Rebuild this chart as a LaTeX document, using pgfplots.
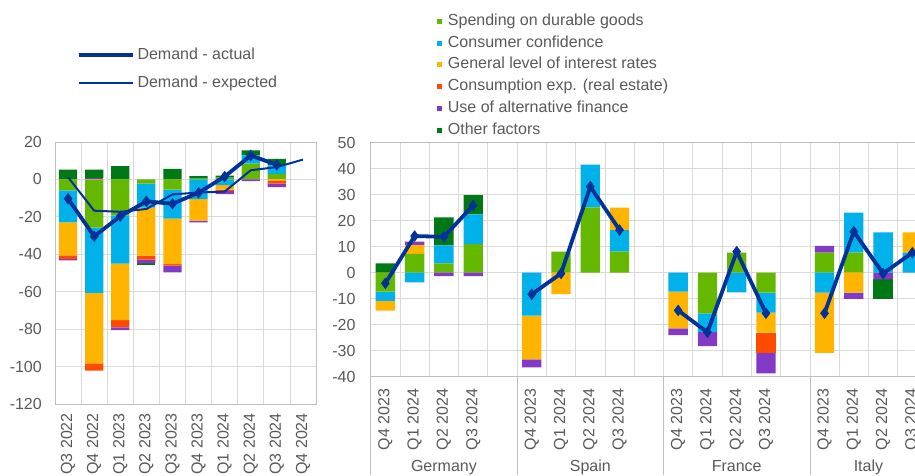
\documentclass[border=0pt]{standalone}
\usepackage{fontspec}
\setmainfont{Liberation Sans}
\usepackage{pgfplots}
\usepackage{pgfplotstable}
\pgfplotsset{compat=1.18}

\definecolor{ecbblue}{HTML}{003299}
\definecolor{cdur}{HTML}{65B800}
\definecolor{cconf}{HTML}{00B1EA}
\definecolor{cint}{HTML}{FFB400}
\definecolor{cre}{HTML}{FF4B00}
\definecolor{calt}{HTML}{8139C6}
\definecolor{coth}{HTML}{007816}
\definecolor{txtgray}{HTML}{595959}
\definecolor{gridgray}{HTML}{D9D9D9}
\definecolor{framegray}{HTML}{BFBFBF}

% Left chart: euro area, positive parts of contributions
\pgfplotstableread{
x dur conf int re alt oth
0 0 0 0 0 0 5.2
1 0 0 0 0 0.7 4.5
2 0 0 0 0 0 7.1
3 0 0 0 0 0 0
4 0 0 0 0 0 5.7
5 0.7 0 0 0 0 1.1
6 0.9 0 0 0 0 1.2
7 8.5 4.3 0 0 0 2.7
8 3 4.5 0 0 0 3.5
9 0 0 0 0 0 0
}\leftpos
% negative parts
\pgfplotstableread{
x dur conf int re alt oth
0 -5.9 -17 -17.7 -2 -0.7 0
1 -25.8 -34.8 -37.7 -3.9 0 0
2 -19.2 -25.8 -30.2 -3.9 -1.4 0
3 -2.3 -12.7 -25.7 -2.2 -2 -0.7
4 -5.5 -15.5 -24.3 -0.7 -3.6 0
5 0 -10.5 -11.5 0 -1 0
6 0 -3 -2.5 -0.8 -1.6 0
7 0 0 0 0 -0.9 0
8 0 0 -0.5 -1.8 -1.8 0
9 0 0 0 0 0 0
}\leftneg
\pgfplotstableread{
x act exp
0 -10.3 1.2
1 -30.4 -16.7
2 -19.7 -17.3
3 -11.7 -15.8
4 -13 -8
5 -7.1 -7
6 1.5 -6.5
7 12.8 4.9
8 7.8 6.6
9 nan 10.6
}\leftline

% Right chart: countries
\pgfplotstableread{
x dur conf int re alt oth
0 0 0 0 0 0 3.6
1 7.2 0 3.5 0 1.3 0
2 3.6 6.9 0 0 0 10.8
3 11 11.4 0 0 0 7.4
5 0 0 0 0 0 0
6 8.1 0 0 0 0 0
7 25.1 16.5 0 0 0 0
8 8.1 8.3 8.6 0 0 0
10 0 0 0 0 0 0
11 0 0 0 0 0 0
12 7.7 0 0 0 0 0
13 0 0 0 0 0 0
15 7.7 0 0 0 2.6 0
16 7.7 15.4 0 0 0 0
17 0 15.5 0 0 0 0
18 0 7.7 7.8 0 0 0
}\rightpos
\pgfplotstableread{
x dur conf int re alt oth
0 -7.3 -3.5 -3.8 0 0 0
1 0 -3.7 0 0 0 0
2 0 0 0 0 -1.3 0
3 0 0 0 0 -1.3 0
5 0 -16.5 -16.8 0 -3.1 0
6 0 0 -8.2 0 0 0
7 0 0 0 0 0 0
8 0 0 0 0 0 0
10 0 -7.3 -14.1 0 -2.6 0
11 -15.6 -7.3 0 0 -5.3 0
12 0 -7.6 0 0 0 0
13 -7.7 -7.7 -7.6 -7.8 -7.9 0
15 0 -7.7 -23.1 0 0 0
16 0 0 -7.7 0 -2.4 0
17 0 0 0 0 -2.6 -7.6
18 0 0 0 0 0 0
}\rightneg
\pgfplotstableread{
x act
0 -4.1
1 14.1
2 13.8
3 25.9
4 nan
5 -8.3
6 -0.3
7 33.1
8 16.4
9 nan
10 -14.5
11 -22.9
12 8.1
13 -15.6
14 nan
15 -15.6
16 15.8
17 -0.3
18 7.7
}\rightline

\pgfplotsset{
  basefont/.style={font=\fontsize{16}{16}\selectfont},
  common/.style={
    scale only axis, anchor=south west, basefont,
    /pgf/number format/assume math mode=true,
    tick label style={text=txtgray},
    axis line style={draw=framegray, line width=0.75pt},
    grid style={draw=gridgray, line width=0.75pt},
    major tick length=0pt, minor tick length=0pt,
  },
  leftgeom/.style={common, at={(55pt,71pt)}, width=261pt, height=262pt,
    xmin=-0.5, xmax=9.5, ymin=-120, ymax=20},
  rightgeom/.style={common, at={(370.7pt,98.3pt)}, width=556.3pt, height=234pt,
    xmin=-0.5, xmax=18.5, ymin=-40, ymax=50},
  sq legend/.style={legend image code/.code={\fill[##1] (0pt,-2.5pt) rectangle (5pt,2.5pt);}},
  ln legend/.style={legend image code/.code={\draw[##1] (0pt,0.5pt) -- (54pt,0.5pt);}},
}

\begin{document}
\begin{tikzpicture}
\path[use as bounding box] (0,0) rectangle (915pt,475pt);
\clip (0,0) rectangle (915pt,475pt);

% ---------- LEFT CHART ----------
\begin{axis}[leftgeom,
  ybar stacked, bar width=0.7,
  ytick={-120,-100,...,20}, ymajorgrids,
  xtick={0,...,9},
  xticklabels={Q3 2022,Q4 2022,Q1 2023,Q2 2023,Q3 2023,Q4 2023,Q1 2024,Q2 2024,Q3 2024,Q4 2024},
  minor xtick={-0.5,0.5,...,9.5}, xminorgrids,
  xticklabel style={rotate=90, anchor=east, inner sep=0pt},
  xticklabel shift=9pt,
  yticklabel style={anchor=east, inner sep=0pt},
  yticklabel shift=13pt,
]
\addplot[fill=cdur, draw=none] table[x=x,y=dur]{\leftpos};
\addplot[fill=cconf, draw=none] table[x=x,y=conf]{\leftpos};
\addplot[fill=cint, draw=none] table[x=x,y=int]{\leftpos};
\addplot[fill=cre, draw=none] table[x=x,y=re]{\leftpos};
\addplot[fill=calt, draw=none] table[x=x,y=alt]{\leftpos};
\addplot[fill=coth, draw=none] table[x=x,y=oth]{\leftpos};
\end{axis}
\begin{axis}[leftgeom, hide axis, ybar stacked, bar width=0.7]
\addplot[fill=cdur, draw=none] table[x=x,y=dur]{\leftneg};
\addplot[fill=cconf, draw=none] table[x=x,y=conf]{\leftneg};
\addplot[fill=cint, draw=none] table[x=x,y=int]{\leftneg};
\addplot[fill=cre, draw=none] table[x=x,y=re]{\leftneg};
\addplot[fill=calt, draw=none] table[x=x,y=alt]{\leftneg};
\addplot[fill=coth, draw=none] table[x=x,y=oth]{\leftneg};
\end{axis}
\begin{axis}[leftgeom, hide axis, clip=false, unbounded coords=jump, ln legend,
  legend cell align=left,
  legend style={draw=none, fill=none, at={(0.084,1.372)}, anchor=north west,
    inner sep=0pt, row sep=5.7pt, basefont,
    nodes={inner xsep=2pt, inner ysep=3pt, text height=12pt, text depth=4pt, text=txtgray},
    /tikz/every odd column/.style={column sep=0.6pt}},
]
\addplot[ecbblue, line width=3.8pt, mark=diamond*, mark size=5pt, mark options={solid, line width=1pt}]
  table[x=x,y=act]{\leftline};
\addlegendentry{Demand - actual}
\addplot[ecbblue, line width=2pt, mark=none] table[x=x,y=exp]{\leftline};
\addlegendentry{Demand - expected}
\end{axis}

% ---------- RIGHT CHART ----------
\begin{axis}[rightgeom, clip=false,
  ybar stacked, bar width=0.66,
  ytick={-40,-30,...,50}, ymajorgrids,
  xtick={0,1,2,3,5,6,7,8,10,11,12,13,15,16,17,18},
  xticklabels={Q4 2023,Q1 2024,Q2 2024,Q3 2024,Q4 2023,Q1 2024,Q2 2024,Q3 2024,Q4 2023,Q1 2024,Q2 2024,Q3 2024,Q4 2023,Q1 2024,Q2 2024,Q3 2024},
  minor xtick={-0.5,0.5,...,18.5}, xminorgrids,
  extra x ticks={-0.5,4.5,9.5,14.5}, extra x tick labels={},
  extra x tick style={major tick length=98.3pt, tick align=outside, xtick pos=bottom,
    tick style={draw=framegray, line width=0.75pt}},
  xticklabel style={rotate=90, anchor=east, inner sep=0pt},
  xticklabel shift=12pt,
  yticklabel style={anchor=east, inner sep=0pt},
  yticklabel shift=15pt,
  sq legend, legend cell align=left,
  legend style={draw=none, fill=none, at={(0.118,1.565)}, anchor=north west,
    inner sep=0pt, row sep=0pt, basefont,
    nodes={inner xsep=2pt, inner ysep=2.85pt, text height=12pt, text depth=4pt, text=txtgray},
    /tikz/every odd column/.style={column sep=4.4pt}},
]
\addplot[fill=cdur, draw=none] table[x=x,y=dur]{\rightpos};
\addlegendentry{Spending on durable goods}
\addplot[fill=cconf, draw=none] table[x=x,y=conf]{\rightpos};
\addlegendentry{Consumer confidence}
\addplot[fill=cint, draw=none] table[x=x,y=int]{\rightpos};
\addlegendentry{General level of interest rates}
\addplot[fill=cre, draw=none] table[x=x,y=re]{\rightpos};
\addlegendentry{Consumption exp. (real estate)}
\addplot[fill=calt, draw=none] table[x=x,y=alt]{\rightpos};
\addlegendentry{Use of alternative finance}
\addplot[fill=coth, draw=none] table[x=x,y=oth]{\rightpos};
\addlegendentry{Other factors}
\node[anchor=base, text=txtgray, yshift=-95pt] at (axis cs:2,-40) {Germany};
\node[anchor=base, text=txtgray, yshift=-95pt] at (axis cs:7,-40) {Spain};
\node[anchor=base, text=txtgray, yshift=-95pt] at (axis cs:12,-40) {France};
\node[anchor=base, text=txtgray, yshift=-95pt] at (axis cs:16.5,-40) {Italy};
\end{axis}
\begin{axis}[rightgeom, hide axis, ybar stacked, bar width=0.66]
\addplot[fill=cdur, draw=none] table[x=x,y=dur]{\rightneg};
\addplot[fill=cconf, draw=none] table[x=x,y=conf]{\rightneg};
\addplot[fill=cint, draw=none] table[x=x,y=int]{\rightneg};
\addplot[fill=cre, draw=none] table[x=x,y=re]{\rightneg};
\addplot[fill=calt, draw=none] table[x=x,y=alt]{\rightneg};
\addplot[fill=coth, draw=none] table[x=x,y=oth]{\rightneg};
\end{axis}
\begin{axis}[rightgeom, hide axis, unbounded coords=jump]
\addplot[ecbblue, line width=3.8pt, mark=diamond*, mark size=5pt, mark options={solid, line width=1pt}]
  table[x=x,y=act]{\rightline};
\end{axis}
\end{tikzpicture}
\end{document}
